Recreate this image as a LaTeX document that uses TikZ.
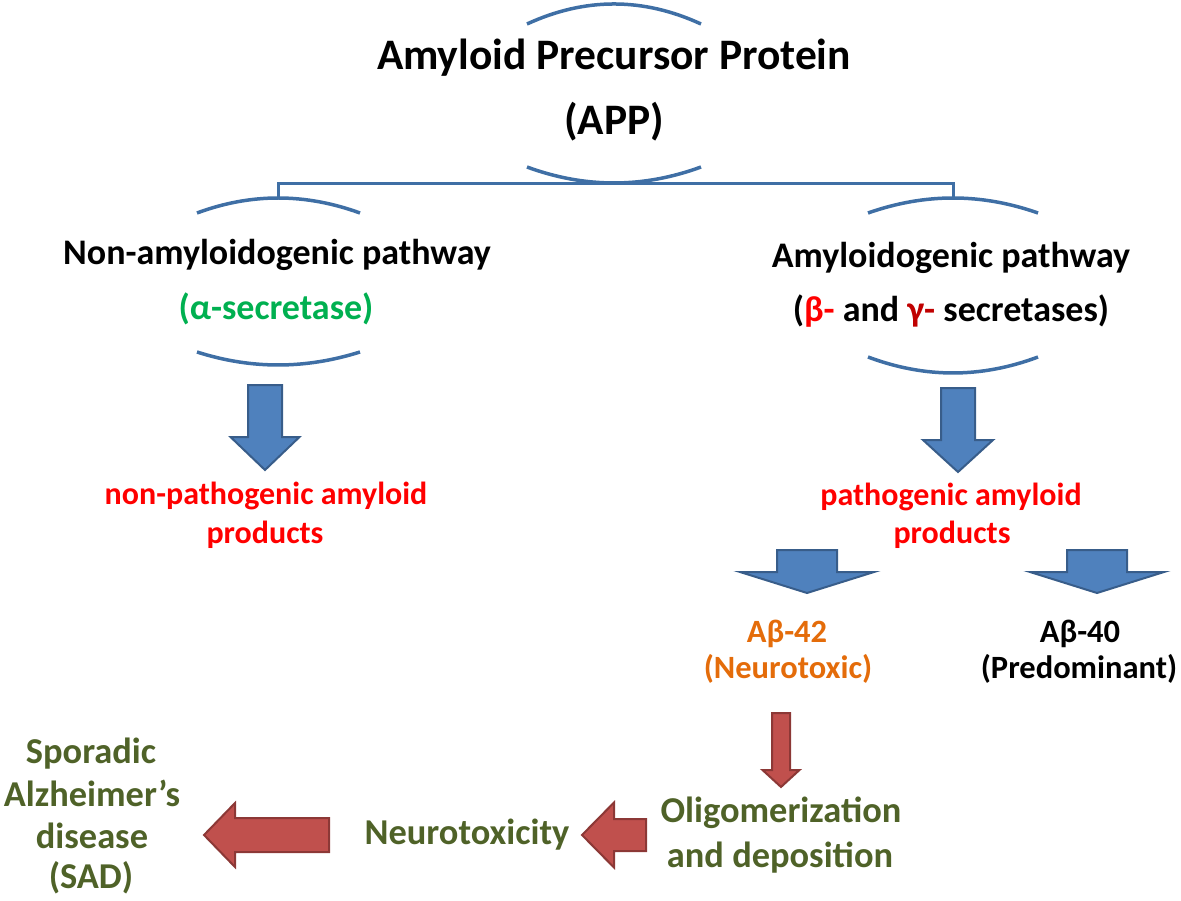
\documentclass[tikz,border=0pt]{standalone}
\usepackage{fontspec}
\setmainfont{Carlito}
\usetikzlibrary{calc}

\definecolor{bleutrait}{HTML}{3F6FA5}
\definecolor{bleufond}{HTML}{4F81BD}
\definecolor{bleubord}{HTML}{385D8A}
\definecolor{rougefond}{HTML}{C0504D}
\definecolor{rougebord}{HTML}{8C3836}
\definecolor{olive}{HTML}{4F6228}
\definecolor{vertalpha}{HTML}{00B050}
\definecolor{orangeab}{HTML}{E46C0A}
\definecolor{rougegamma}{HTML}{C00000}

% block arrow pointing down: style, top, tip, half shaft, half head, head length
\newcommand{\flechebas}[6]{%
  \draw[#1] let \p1=(#2), \p2=(#3) in
    (\x1-#4,\y1) -- (\x1+#4,\y1) -- (\x1+#4,\y2+#6) -- (\x1+#5,\y2+#6)
    -- (\x2,\y2) -- (\x1-#5,\y2+#6) -- (\x1-#4,\y2+#6) -- cycle;}
% block arrow pointing left: style, start, tip, half shaft, half head, head length
\newcommand{\flechegauche}[6]{%
  \draw[#1] let \p1=(#2), \p2=(#3) in
    (\x1,\y1-#4) -- (\x1,\y1+#4) -- (\x2+#6,\y1+#4) -- (\x2+#6,\y1+#5)
    -- (\x2,\y2) -- (\x2+#6,\y1-#5) -- (\x2+#6,\y1-#4) -- cycle;}

\begin{document}
\begin{tikzpicture}[x=1pt,y=-1pt]
  \tikzstyle{texte}=[inner sep=0pt, anchor=base, font=\bfseries]
  \tikzstyle{titre}=[texte, font=\fontsize{43.5}{50}\selectfont\bfseries]
  \tikzstyle{voie}=[texte, font=\fontsize{36}{42}\selectfont\bfseries]
  \tikzstyle{produit}=[texte, text=red, font=\fontsize{32}{38}\selectfont\bfseries]
  \tikzstyle{abeta}=[texte, font=\fontsize{32.5}{38}\selectfont\bfseries]
  \tikzstyle{suite}=[texte, text=olive, font=\fontsize{36.4}{42}\selectfont\bfseries]
  \tikzstyle{arc}=[draw=bleutrait, line width=3.5pt]
  \tikzstyle{bleue}=[fill=bleufond, draw=bleubord, line width=2pt]
  \tikzstyle{rouge}=[fill=rougefond, draw=rougebord, line width=2pt]

  \useasboundingbox (0,0) rectangle (1181,901);

  % texts
  \node[titre] (App) at (614,70) {Amyloid Precursor Protein};
  \node[titre] (AppAbr) at (614,135) {(APP)};
  \node[voie] (NonAmy) at (277,265) {Non-amyloidogenic pathway};
  \node[voie, text=vertalpha] (Alpha) at (276,320) {(α-secretase)};
  \node[voie] (Amy) at (951,268) {Amyloidogenic pathway};
  \node[voie] (BetaGamma) at (951,322) {(\textcolor{red}{β-} and \textcolor{rougegamma}{γ-} secretases)};
  \node[produit] (NonPath) at (266,504) {non-pathogenic amyloid};
  \node[produit] (NonPathB) at (265,543) {products};
  \node[produit] (Path) at (951,505) {pathogenic amyloid};
  \node[produit] (PathB) at (952,543) {products};
  \node[abeta, text=orangeab] (Ab42) at (787,642) {Aβ-42};
  \node[abeta, text=orangeab] (Ab42B) at (788,678) {(Neurotoxic)};
  \node[abeta] (Ab40) at (1080,642) {Aβ-40};
  \node[abeta] (Ab40B) at (1079,678) {(Predominant)};
  \node[suite] (Olig) at (781,822) {Oligomerization};
  \node[suite] (OligB) at (780,867) {and deposition};
  \node[suite] (Neuro) at (467,844) {Neurotoxicity};
  \node[suite] (Sad) at (91,763) {Sporadic};
  \node[suite] (SadB) at (92,806) {Alzheimer’s};
  \node[suite] (SadC) at (92,848) {disease};
  \node[suite] (SadD) at (91,888) {(SAD)};

  % brackets
  \coordinate (AppT1) at (527,24);
  \coordinate (AppT2) at (701,24);
  \coordinate (AppB1) at (527,167);
  \coordinate (AppB2) at (701,167);
  \coordinate (AppB) at (614,184);
  \coordinate (NonT1) at (197,213);
  \coordinate (NonT2) at (360,213);
  \coordinate (NonT) at (278,198);
  \coordinate (NonB1) at (197,352);
  \coordinate (NonB2) at (360,352);
  \coordinate (AmyT1) at (868,213);
  \coordinate (AmyT2) at (1038,213);
  \coordinate (AmyT) at (953,198);
  \coordinate (AmyB1) at (868,357);
  \coordinate (AmyB2) at (1038,357);
  \draw[arc] (AppT1) .. controls (585,-2.7) and (643,-2.7) .. (AppT2);
  \draw[arc] (AppB1) .. controls (585,188.3) and (643,188.3) .. (AppB2);
  \draw[arc] (NonT1) .. controls (251,193) and (305,193) .. (NonT2);
  \draw[arc] (NonB1) .. controls (251,369.3) and (305,369.3) .. (NonB2);
  \draw[arc] (AmyT1) .. controls (925,193) and (981,193) .. (AmyT2);
  \draw[arc] (AmyB1) .. controls (925,378.3) and (981,378.3) .. (AmyB2);
  \draw[arc, line width=3pt] (AppB) -| (NonT);
  \draw[arc, line width=3pt] (AppB) -| (AmyT);

  % arrows
  \coordinate (F1a) at (265,385);  \coordinate (F1b) at (265,470);
  \coordinate (F2a) at (958,388);  \coordinate (F2b) at (958,472);
  \coordinate (F3a) at (807,550);  \coordinate (F3b) at (807,593);
  \coordinate (F4a) at (1097,550); \coordinate (F4b) at (1097,593);
  \coordinate (F5a) at (781,713);  \coordinate (F5b) at (781,787);
  \coordinate (F6a) at (646,835);  \coordinate (F6b) at (582,835);
  \coordinate (F7a) at (329,835);  \coordinate (F7b) at (204,835);
  \flechebas{bleue}{F1a}{F1b}{17pt}{34.5pt}{33pt}
  \flechebas{bleue}{F2a}{F2b}{17pt}{35pt}{32pt}
  \flechebas{bleue}{F3a}{F3b}{30pt}{67pt}{21pt}
  \flechebas{bleue}{F4a}{F4b}{30pt}{67pt}{21pt}
  \flechebas{rouge}{F5a}{F5b}{9pt}{18.5pt}{17pt}
  \flechegauche{rouge}{F6a}{F6b}{16pt}{32.5pt}{32pt}
  \flechegauche{rouge}{F7a}{F7b}{17pt}{32pt}{31pt}

\end{tikzpicture}
\end{document}
